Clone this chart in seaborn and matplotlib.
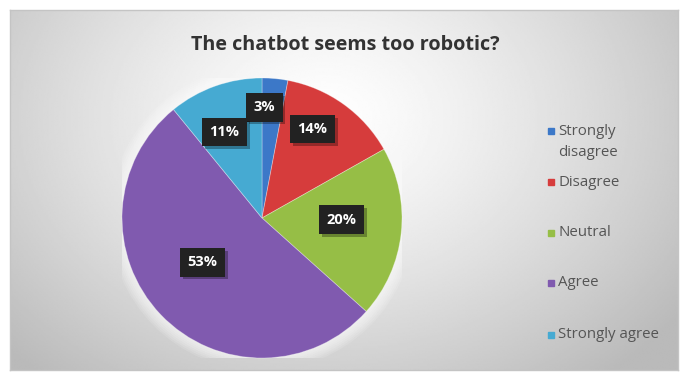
import numpy as np
import matplotlib
matplotlib.use("Agg")
import matplotlib.pyplot as plt
from matplotlib.patches import Rectangle, Circle
from matplotlib import patheffects as pe
import seaborn as sns

# Survey responses
categories = ["Strongly\ndisagree", "Disagree", "Neutral", "Agree", "Strongly agree"]
values = [3, 14, 20, 53, 11]
pct_labels = ["3%", "14%", "20%", "53%", "11%"]
title = "The chatbot seems too robotic?"

sns.set_theme(style="white")
plt.rcParams["font.family"] = ["Open Sans", "DejaVu Sans"]

colors = sns.color_palette(["#3C78C8", "#D63C3C", "#96BE46", "#805AAF", "#46AAD2"])

W, H = 686, 376
fig = plt.figure(figsize=(W / 100, H / 100), dpi=100)
fig.patch.set_facecolor("white")

# chart area with a soft radial gradient
x0, y0, x1, y1 = 10, 10, 678, 370
bg = fig.add_axes([x0 / W, 1 - y1 / H, (x1 - x0) / W, (y1 - y0) / H])
gx, gy = np.meshgrid(np.linspace(0, 1, 400), np.linspace(0, 1, 220))
d = np.sqrt(((gx - 0.47) / 0.6) ** 2 + ((gy - 0.3) / 0.85) ** 2)
shade = 1.0 - 0.24 * np.clip(d, 0, 1.1) ** 1.3
bg.imshow(shade, cmap="gray", vmin=0, vmax=1, aspect="auto",
          extent=[0, 1, 1, 0], interpolation="bilinear")
bg.set_xlim(0, 1)
bg.set_ylim(1, 0)
bg.set_xticks([])
bg.set_yticks([])
for s in bg.spines.values():
    s.set_color("#c4c4c4")
    s.set_linewidth(1.0)

fig.text(345 / W, 1 - 45 / H, title, ha="center", va="center",
         fontsize=14.2, fontweight="bold", color="#333333")

# pie
cx, cy, r = 262, 218, 140
ax = fig.add_axes([(cx - r) / W, 1 - (cy + r) / H, 2 * r / W, 2 * r / H])
ax.set_facecolor("none")
for k in range(7):
    ax.add_patch(Circle((0, 0), 1.0 + 0.013 * (k + 1), color="white",
                        alpha=0.12, lw=0, zorder=0))
wedges, _ = ax.pie(values, colors=colors, startangle=90, counterclock=False,
                   radius=1.0, wedgeprops=dict(edgecolor=(1, 1, 1, 0.35), linewidth=0.6))
ax.set_xlim(-1, 1)
ax.set_ylim(-1, 1)
ax.set_aspect("equal")
ax.axis("off")

# data labels in dark boxes with a drop shadow
label_r = [0.79, 0.73, 0.57, 0.53, 0.67]
angle_shift = [-4, -6, -5, 7, -4]
total = sum(values)
cum = 0
for v, lab, lr, sh in zip(values, pct_labels, label_r, angle_shift):
    mid = (cum + v / 2) / total * 360 + sh
    cum += v
    th = np.deg2rad(90 - mid)
    lx, ly = lr * np.cos(th), lr * np.sin(th)
    t = ax.text(lx, ly, lab, ha="center", va="center", fontsize=10.5,
                fontweight="bold", color="white",
                bbox=dict(boxstyle="square,pad=0.5", fc="#222222", ec="none"))
    t.get_bbox_patch().set_path_effects(
        [pe.SimplePatchShadow(offset=(2, -2), shadow_rgbFace="black", alpha=0.3),
         pe.Normal()])

# legend
leg_y = [142, 182, 233, 283, 335]
for lab, c, yy in zip(categories, colors, leg_y):
    first_line_y = yy - 11 if "\n" in lab else yy
    fig.patches.append(Rectangle((548 / W, 1 - (first_line_y + 3) / H), 6 / W, 6 / H,
                                 transform=fig.transFigure, color=c, zorder=5))
    fig.text(558 / W, 1 - yy / H, lab, ha="left", va="center", fontsize=10.8,
             color="#555555", linespacing=1.55)

fig.savefig("out.png", dpi=100)
